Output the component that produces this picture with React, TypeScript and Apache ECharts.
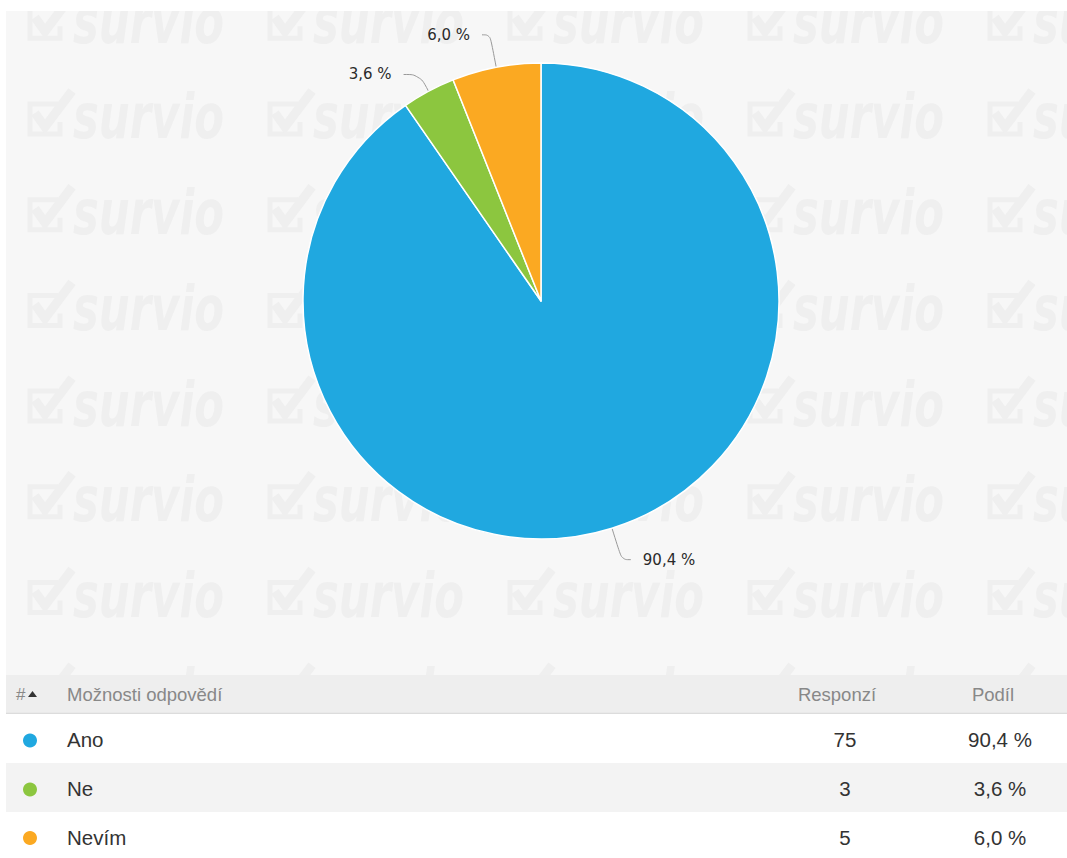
import React, { useEffect, useRef } from 'react';
import * as echarts from 'echarts';

const categories = ['Ano', 'Ne', 'Nevím'];
const responses = [75, 3, 5];
const headerLabels = ['#', 'Možnosti odpovědí', 'Responzí', 'Podíl'];

const sliceColors = ['#20a8e0', '#8cc63f', '#fba922'];
const labelLineLengths = [[33, 9], [19, 16], [33, 8]];

function pct(v: number, total: number) {
  return (v / total * 100).toFixed(1).replace('.', ',') + ' %';
}

export default function App() {
  const ref = useRef<HTMLDivElement>(null);
  useEffect(() => {
    if (!ref.current) return;
    const chart = echarts.init(ref.current, null, { renderer: 'svg' });
    const total = responses.reduce((a, b) => a + b, 0);
    const wm = '#efefef';
    const graphics: any[] = [];
    graphics.push({ type: 'rect', z: 0, shape: { x: 6, y: 11, width: 1061, height: 664 }, style: { fill: '#f7f7f7' } });
    for (let r = 0; r < 8; r++) {
      for (let c = 0; c < 5; c++) {
        const tx = 27 + c * 240;
        const ty = 88 + (r - 1) * 95.7;
        graphics.push({
          type: 'group', x: tx, y: ty, z: 0,
          children: [
            { type: 'polyline', shape: { points: [[31, 16], [3, 16], [3, 46], [33, 46], [33, 34]] }, style: { stroke: wm, lineWidth: 5, fill: null } },
            { type: 'polyline', shape: { points: [[8, 25], [18, 39], [45, 3]] }, style: { stroke: wm, lineWidth: 9, fill: null } },
            { type: 'text', x: 46, y: 29, scaleX: 0.7, style: { text: 'survio', fontStyle: 'italic', fontWeight: 'bold', fontSize: 62, fontFamily: 'DejaVu Sans', fill: wm, verticalAlign: 'middle', align: 'left' } },
          ],
        });
      }
    }
    graphics.push({ type: 'rect', z: 0, shape: { x: 0, y: 0, width: 1067, height: 11 }, style: { fill: '#ffffff' } });
    graphics.push({ type: 'rect', z: 0, shape: { x: 0, y: 0, width: 6, height: 858 }, style: { fill: '#ffffff' } });
    // table header
    graphics.push({ type: 'rect', z: 0, shape: { x: 6, y: 675, width: 1061, height: 38 }, style: { fill: '#eeeeee' } });
    graphics.push({ type: 'rect', z: 0, shape: { x: 6, y: 713, width: 1061, height: 183 }, style: { fill: '#ffffff' } });
    graphics.push({ type: 'line', z: 0, shape: { x1: 6, y1: 713.5, x2: 1067, y2: 713.5 }, style: { stroke: '#dcdcdc', lineWidth: 1.5 } });
    const hy = 694;
    const hFont = '18.5px "Liberation Sans"';
    const hColor = '#888888';
    graphics.push({ type: 'text', z: 1, x: 16, y: hy, style: { text: headerLabels[0], font: '17px "Liberation Sans"', fill: hColor, verticalAlign: 'middle' } });
    graphics.push({ type: 'polygon', z: 1, shape: { points: [[28, 697], [37, 697], [32.5, 691]] }, style: { fill: '#333' } });
    graphics.push({ type: 'text', z: 1, x: 67, y: hy, style: { text: headerLabels[1], font: hFont, fill: hColor, verticalAlign: 'middle' } });
    graphics.push({ type: 'text', z: 1, x: 837, y: hy, style: { text: headerLabels[2], font: hFont, fill: hColor, align: 'center', verticalAlign: 'middle' } });
    graphics.push({ type: 'text', z: 1, x: 993, y: hy, style: { text: headerLabels[3], font: hFont, fill: hColor, align: 'center', verticalAlign: 'middle' } });
    const rowTops = [714, 763, 812];
    const rowH = [49, 49, 46];
    const rowBg = ['#ffffff', '#f3f3f3', '#ffffff'];
    categories.forEach((cat, i) => {
      const cy = rowTops[i] + (i === 2 ? 25 : 25.5);
      graphics.push({ type: 'rect', z: 0, shape: { x: 6, y: rowTops[i], width: 1061, height: rowH[i] }, style: { fill: rowBg[i] } });
      graphics.push({ type: 'circle', z: 1, shape: { cx: 30, cy: cy + 1, r: 7 }, style: { fill: sliceColors[i] } });
      const f = '20.5px "Liberation Sans"';
      graphics.push({ type: 'text', z: 1, x: 67, y: cy, style: { text: cat, font: f, fill: '#333', verticalAlign: 'middle' } });
      graphics.push({ type: 'text', z: 1, x: 845, y: cy, style: { text: String(responses[i]), font: f, fill: '#333', align: 'center', verticalAlign: 'middle' } });
      graphics.push({ type: 'text', z: 1, x: 1000, y: cy, style: { text: pct(responses[i], total), font: f, fill: '#333', align: 'center', verticalAlign: 'middle' } });
    });

    chart.setOption({
      animation: false,
      graphic: { elements: graphics },
      series: [{
        type: 'pie',
        center: [541, 301],
        radius: 238,
        startAngle: 90,
        clockwise: true,
        avoidLabelOverlap: false,
        itemStyle: { borderColor: '#ffffff', borderWidth: 1.5 },
        label: {
          show: true,
          position: 'outside',
          fontFamily: 'DejaVu Sans',
          fontSize: 15,
          color: '#2a2a2a',
          distanceToLabelLine: 12,
          formatter: (p: any) => pct(p.value, total),
        },
        labelLine: { show: true, smooth: 0.4, lineStyle: { color: '#999999', width: 1 } },
        data: categories.map((name, i) => ({
          name,
          value: responses[i],
          itemStyle: { color: sliceColors[i] },
          labelLine: { length: labelLineLengths[i][0], length2: labelLineLengths[i][1] },
        })),
      }],
    });
    return () => chart.dispose();
  }, []);
  return <div ref={ref} style={{ position: 'absolute', left: 0, top: 0, width: 1067, height: 858 }} />;
}
